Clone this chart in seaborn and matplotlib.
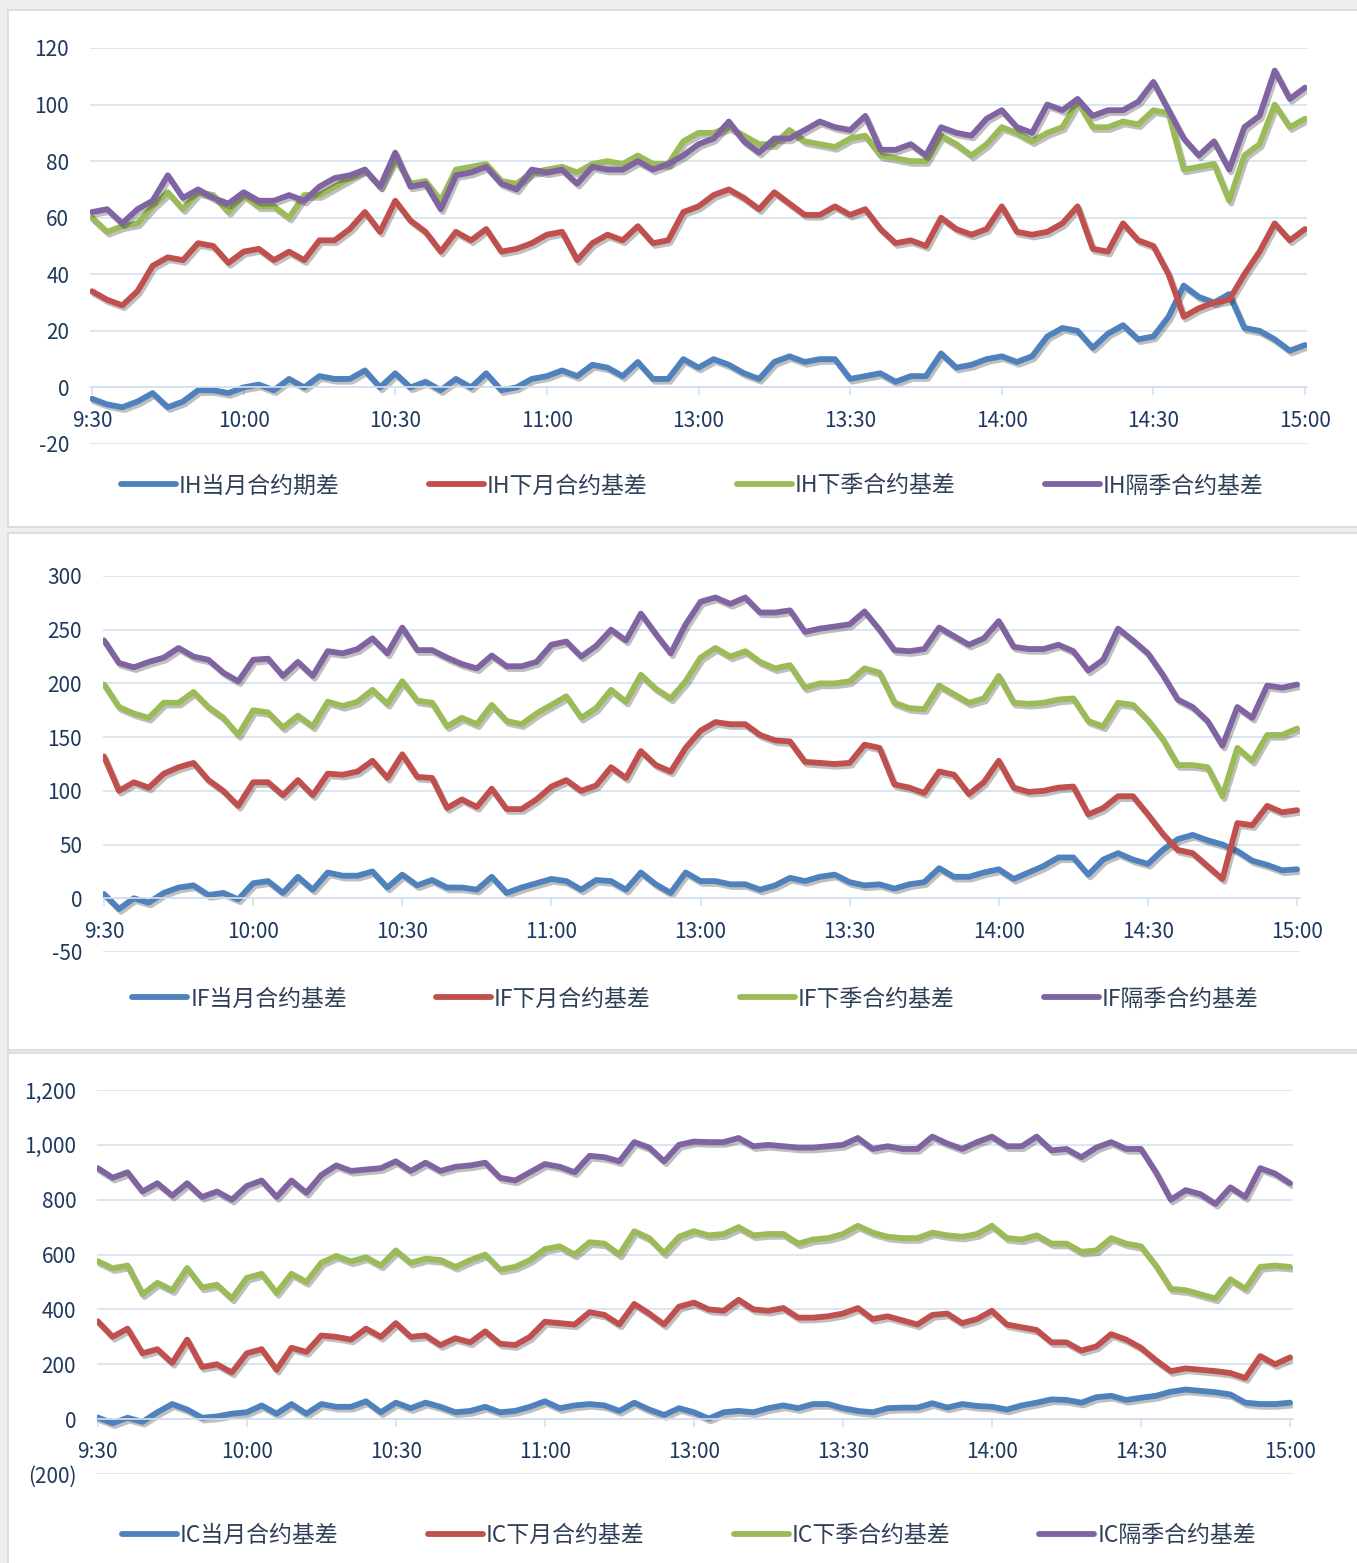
import numpy as np
import pandas as pd
import matplotlib
matplotlib.use("Agg")
import matplotlib.pyplot as plt
import matplotlib.patheffects as pe
from matplotlib.patches import Rectangle
import seaborn as sns

# ---- data: one point every 3 trading minutes (9:30-11:30, 13:00-15:00) ----
time_labels = ['9:30', '10:00', '10:30', '11:00', '13:00', '13:30', '14:00', '14:30', '15:00']

ih_names = ['IH当月合约期差', 'IH下月合约基差', 'IH下季合约基差', 'IH隔季合约基差']
ih_cur = [-4, -6, -7, -5, -2, -7, -5, -1, -1, -2, 0, 1, -1, 3, 0, 4, 3, 3, 6, 0, 5,
          0, 2, -1, 3, 0, 5, -1, 0, 3, 4, 6, 4, 8, 7, 4, 9, 3, 3, 10, 7,
          10, 8, 5, 3, 9, 11, 9, 10, 10, 3, 4, 5, 2, 4, 4, 12, 7, 8, 10, 11,
          9, 11, 18, 21, 20, 14, 19, 22, 17, 18, 25, 36, 32, 30, 33, 21, 20, 17, 13, 15]
ih_next = [34, 31, 29, 34, 43, 46, 45, 51, 50, 44, 48, 49, 45, 48, 45, 52, 52, 56, 62, 55, 66,
           59, 55, 48, 55, 52, 56, 48, 49, 51, 54, 55, 45, 51, 54, 52, 57, 51, 52, 62, 64,
           68, 70, 67, 63, 69, 65, 61, 61, 64, 61, 63, 56, 51, 52, 50, 60, 56, 54, 56, 64,
           55, 54, 55, 58, 64, 49, 48, 58, 52, 50, 40, 25, 28, 30, 31, 40, 48, 58, 52, 56]
ih_qtr = [60, 55, 57, 58, 64, 69, 63, 69, 68, 62, 68, 64, 64, 60, 68, 68, 71, 74, 77, 71, 81,
          72, 73, 66, 77, 78, 79, 73, 72, 76, 77, 78, 76, 79, 80, 79, 82, 79, 79, 87, 90,
          90, 92, 89, 86, 86, 91, 87, 86, 85, 88, 89, 82, 81, 80, 80, 89, 86, 82, 86, 92,
          90, 87, 90, 92, 101, 92, 92, 94, 93, 98, 97, 77, 78, 79, 66, 82, 86, 100, 92, 95]
ih_far = [62, 63, 58, 63, 66, 75, 67, 70, 67, 65, 69, 66, 66, 68, 66, 71, 74, 75, 77, 71, 83,
          71, 72, 63, 75, 76, 78, 72, 70, 77, 76, 77, 72, 78, 77, 77, 80, 77, 79, 82, 86,
          88, 94, 87, 83, 88, 88, 91, 94, 92, 91, 96, 84, 84, 86, 82, 92, 90, 89, 95, 98,
          92, 90, 100, 98, 102, 96, 98, 98, 101, 108, 98, 88, 82, 87, 77, 92, 96, 112, 102, 106]

if_names = ['IF当月合约基差', 'IF下月合约基差', 'IF下季合约基差', 'IF隔季合约基差']
if_cur = [4, -10, 0, -4, 5, 10, 12, 3, 5, -1, 14, 16, 5, 20, 8, 24, 21, 21, 25, 10, 22,
          12, 17, 10, 10, 8, 20, 5, 10, 14, 18, 16, 8, 17, 16, 8, 24, 13, 5, 24, 16,
          16, 13, 13, 8, 12, 19, 16, 20, 22, 15, 12, 13, 9, 13, 15, 28, 20, 20, 24, 27,
          18, 24, 30, 38, 38, 22, 36, 42, 36, 32, 45, 55, 59, 54, 50, 44, 35, 31, 26, 27]
if_next = [132, 100, 108, 103, 116, 122, 126, 110, 100, 86, 108, 108, 96, 110, 96, 116, 115, 118, 128, 112, 134,
           113, 112, 84, 92, 85, 102, 83, 83, 92, 104, 110, 100, 105, 122, 112, 137, 124, 118, 140, 156,
           164, 162, 162, 152, 147, 146, 127, 126, 125, 126, 143, 140, 106, 103, 98, 118, 115, 97, 108, 128,
           103, 99, 100, 103, 104, 78, 84, 95, 95, 78, 60, 45, 42, 30, 18, 70, 68, 86, 80, 82]
if_qtr = [199, 178, 172, 168, 182, 182, 192, 178, 168, 152, 175, 173, 159, 170, 160, 183, 179, 183, 194, 181, 202,
          184, 182, 160, 168, 162, 180, 165, 162, 172, 180, 188, 168, 177, 194, 183, 208, 195, 186, 202, 224,
          233, 225, 230, 220, 214, 217, 196, 200, 200, 202, 214, 210, 182, 177, 176, 198, 190, 182, 186, 207,
          182, 181, 182, 185, 186, 165, 160, 182, 180, 166, 148, 124, 124, 122, 95, 140, 128, 152, 152, 158]
if_far = [240, 219, 215, 220, 224, 233, 225, 222, 210, 202, 222, 223, 207, 220, 207, 230, 228, 232, 242, 228, 252,
          231, 231, 224, 218, 214, 226, 216, 216, 220, 236, 239, 225, 235, 250, 240, 265, 246, 228, 255, 276,
          280, 274, 280, 266, 266, 268, 248, 251, 253, 255, 267, 250, 231, 230, 232, 252, 244, 236, 242, 258,
          234, 232, 232, 236, 230, 212, 222, 251, 240, 228, 208, 185, 178, 165, 142, 178, 168, 198, 196, 199]

ic_names = ['IC当月合约基差', 'IC下月合约基差', 'IC下季合约基差', 'IC隔季合约基差']
ic_cur = [6, -15, 5, -10, 25, 55, 35, 5, 10, 20, 25, 50, 20, 55, 20, 55, 45, 45, 65, 25, 60,
          40, 60, 45, 25, 30, 45, 25, 30, 45, 65, 40, 50, 55, 50, 30, 60, 35, 15, 40, 25,
          2, 25, 30, 25, 40, 50, 40, 55, 55, 40, 30, 25, 40, 42, 42, 58, 42, 55, 48, 45,
          35, 50, 60, 72, 70, 60, 80, 85, 70, 78, 85, 100, 108, 103, 98, 90, 60, 55, 55, 60]
ic_next = [357, 300, 330, 240, 255, 205, 290, 190, 200, 170, 240, 255, 180, 260, 245, 305, 300, 290, 330, 300, 350,
           300, 305, 270, 295, 280, 320, 275, 270, 300, 355, 350, 345, 390, 380, 345, 420, 385, 345, 410, 425,
           400, 395, 435, 400, 395, 405, 370, 370, 375, 385, 405, 365, 375, 360, 345, 380, 385, 350, 365, 395,
           345, 335, 325, 280, 280, 250, 265, 310, 290, 260, 215, 175, 185, 180, 175, 168, 150, 230, 200, 225]
ic_qtr = [576, 550, 560, 455, 497, 470, 551, 480, 490, 440, 515, 530, 460, 530, 500, 570, 595, 575, 590, 560, 615,
          570, 585, 580, 555, 580, 600, 545, 555, 580, 620, 630, 600, 645, 640, 600, 685, 660, 605, 665, 685,
          670, 675, 700, 670, 675, 675, 640, 655, 660, 675, 705, 680, 665, 660, 660, 680, 670, 665, 675, 705,
          660, 655, 670, 640, 640, 610, 615, 660, 640, 630, 560, 475, 470, 455, 440, 510, 475, 555, 560, 555]
ic_far = [915, 880, 900, 830, 860, 815, 860, 810, 830, 800, 850, 870, 810, 870, 825, 890, 925, 905, 910, 915, 940,
          905, 935, 905, 920, 925, 935, 880, 870, 900, 930, 920, 900, 960, 955, 940, 1010, 990, 940, 1000, 1012,
          1010, 1010, 1025, 995, 1000, 995, 990, 990, 995, 1000, 1025, 985, 995, 985, 985, 1030, 1005, 985, 1010, 1030,
          995, 995, 1030, 980, 985, 955, 990, 1010, 985, 985, 900, 800, 835, 820, 785, 845, 810, 915, 895, 860]

ih_yticks = [-20, 0, 20, 40, 60, 80, 100, 120]
ih_ylabels = ['-20', '0', '20', '40', '60', '80', '100', '120']
if_yticks = [-50, 0, 50, 100, 150, 200, 250, 300]
if_ylabels = ['-50', '0', '50', '100', '150', '200', '250', '300']
ic_yticks = [-200, 0, 200, 400, 600, 800, 1000, 1200]
ic_ylabels = ['(200)', '0', '200', '400', '600', '800', '1,000', '1,200']

colors = ['#4f81bd', '#c0504d', '#9bbb59', '#8064a2']

# ---- style ----
sns.set_theme(style='white')
plt.rcParams['font.family'] = ['Noto Sans CJK SC', 'DejaVu Sans']

W, H = 1357, 1563
fig = plt.figure(figsize=(W / 100, H / 100), dpi=100, facecolor='#eeeeee')

# white panel boxes (behind the axes)
for top, bot in [(10, 527), (533, 1050), (1053, 1566)]:
    fig.patches.append(Rectangle((8 / W, 1 - bot / H), 1.0, (bot - top) / H,
                                 transform=fig.transFigure, facecolor='white',
                                 edgecolor='#d4dae2', lw=1.2, zorder=-5))

grid_c = '#d5e1ef'
text_c = '#1f3a60'
lw = 4.2

# (pixel box of plot area, names, series, ylim, ticks, tick labels, legend anchor y, xlim)
panels = [
    ((90, 48, 1307, 444), ih_names, [ih_cur, ih_next, ih_qtr, ih_far], (-20, 120),
     ih_yticks, ih_ylabels, -0.106, (-0.13, 80.13)),
    ((103, 576, 1300, 952), if_names, [if_cur, if_next, if_qtr, if_far], (-50, 300),
     if_yticks, if_ylabels, -0.125, (-0.07, 80.2)),
    ((97, 1090, 1293, 1474), ic_names, [ic_cur, ic_next, ic_qtr, ic_far], (-200, 1200),
     ic_yticks, ic_ylabels, -0.159, (-0.05, 80.2)),
]

for (l, t, r, b), names, series, ylim, yt, ylab, leg_y, xlim in panels:
    ax = fig.add_axes([l / W, 1 - b / H, (r - l) / W, (b - t) / H])
    ax.patch.set_alpha(0)
    n = len(series[0])
    df = pd.DataFrame({
        'idx': np.tile(np.arange(n), len(series)),
        'val': np.concatenate(series),
        'series': np.repeat(names, n),
    })
    sns.lineplot(data=df, x='idx', y='val', hue='series', hue_order=names,
                 palette=colors, linewidth=lw, sort=False, ax=ax)
    for ln in ax.lines:
        ln.set_solid_joinstyle('round')
        ln.set_solid_capstyle('round')
        ln.set_path_effects([pe.SimpleLineShadow(offset=(1.5, -2), alpha=0.28),
                             pe.Normal()])

    ax.set_xlim(*xlim)
    ax.set_ylim(*ylim)
    ax.set_yticks(yt)
    ax.set_yticklabels(ylab)
    ax.set_xticks(range(0, n, 10))
    ax.set_xticklabels(time_labels)
    ax.set_xlabel('')
    ax.set_ylabel('')

    ax.grid(axis='y', color=grid_c, lw=1.2)
    ax.grid(axis='x', visible=False)
    ax.set_axisbelow(True)
    for s in ['left', 'top', 'right']:
        ax.spines[s].set_visible(False)
    ax.spines['bottom'].set_position(('data', 0))
    ax.spines['bottom'].set_color(grid_c)
    ax.spines['bottom'].set_linewidth(1.2)

    ax.tick_params(axis='y', length=0, pad=15, labelsize=15, labelcolor=text_c)
    ax.tick_params(axis='x', length=6, width=1.2, color=grid_c, direction='out',
                   pad=10, labelsize=15, labelcolor=text_c, bottom=True)

    sns.move_legend(ax, 'center', bbox_to_anchor=(0.495, leg_y), ncol=4,
                    frameon=False, title=None, fontsize=16.5, handlelength=2.4,
                    handletextpad=0.12, columnspacing=3.9)
    leg = ax.get_legend()
    for h in leg.legend_handles:
        h.set_linewidth(lw)
    for txt in leg.get_texts():
        txt.set_color('#2e3f58')

fig.savefig('out.png', dpi=100, facecolor=fig.get_facecolor())
